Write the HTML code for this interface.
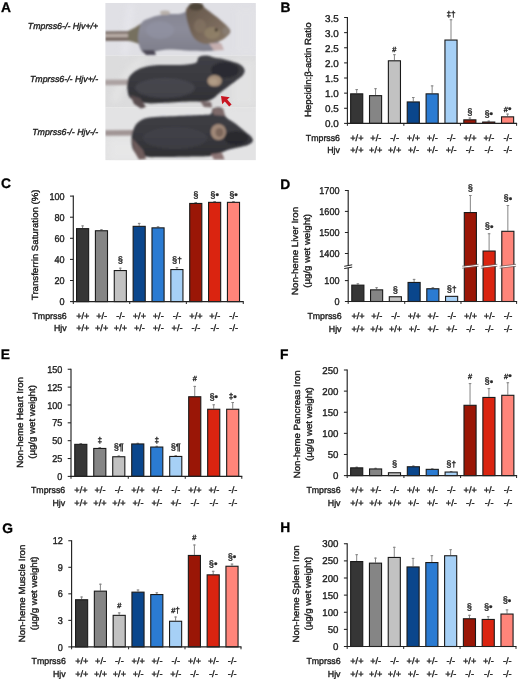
<!DOCTYPE html><html><head><meta charset="utf-8"><style>html,body{margin:0;padding:0;background:#fff;}svg{display:block;font-family:"Liberation Sans", sans-serif;filter:blur(0.35px);} text{stroke:#1a1a1a;stroke-width:0.36px;paint-order:stroke;text-rendering:geometricPrecision;}</style></head><body>
<svg width="520" height="681" viewBox="0 0 520 681">
<rect width="520" height="681" fill="#fff"/>
<defs><filter id="bl" x="-10%" y="-10%" width="120%" height="120%"><feGaussianBlur stdDeviation="0.8"/></filter><filter id="bl3" x="-30%" y="-30%" width="160%" height="160%"><feGaussianBlur stdDeviation="3"/></filter><clipPath id="pc"><rect x="105.4" y="3.1" width="150.4" height="157.1"/></clipPath><linearGradient id="fur2" x1="0" y1="0" x2="0" y2="1"><stop offset="0" stop-color="#404046"/><stop offset="0.5" stop-color="#3a3a40"/><stop offset="1" stop-color="#303034"/></linearGradient><linearGradient id="skin1" x1="0" y1="0" x2="0" y2="1"><stop offset="0" stop-color="#82828f"/><stop offset="0.5" stop-color="#8c8c9a"/><stop offset="1" stop-color="#7e7e8a"/></linearGradient><linearGradient id="head1" x1="0" y1="0" x2="1" y2="1"><stop offset="0" stop-color="#625448"/><stop offset="0.6" stop-color="#7a6a5c"/><stop offset="1" stop-color="#8a7a68"/></linearGradient></defs><g clip-path="url(#pc)"><rect x="105" y="3" width="151" height="52.6" fill="#e0e0e5"/><rect x="105" y="55.6" width="151" height="52" fill="#dcdcdd"/><rect x="105" y="107.6" width="151" height="53" fill="#e3e3e4"/><g filter="url(#bl3)" opacity="0.75"><path d="M121,55 L128,4 L134,4 L128,55 Z" fill="#e8e8ee"/><path d="M110,100 C118,80 125,68 140,58 L150,58 C132,70 124,85 118,104 Z" fill="#e6e6e6"/><rect x="232" y="60" width="24" height="46" fill="#e4e4e4"/><rect x="236" y="8" width="20" height="46" fill="#e2e2e6"/><rect x="110" y="140" width="30" height="20" fill="#e8e8e8"/></g><g filter="url(#bl)"><path d="M105,31.5 L129,31.2 L134,30 L138,33 L134,41 L129,40.8 L105,40.8 Z" fill="#6e605a"/><path d="M105,33.8 L129,33.6 L134,34 L134,37.5 L129,37.6 L105,37.4 Z" fill="#b8aca6"/><path d="M128,31 C133,29 137,26 142,23 L143,46 C139,44 135,42 128,40.8 Z" fill="#76705e"/><path d="M141.5,23 C143.5,19.67 147.17,19.27 150,18 C152.83,16.73 155.17,16.07 158.5,15.4 C161.83,14.73 166.42,14.27 170,14 C173.58,13.73 177,14.47 180,13.8 C183,13.13 186,11.55 188,10 C190,8.45 189.75,5.55 192,4.5 C194.25,3.45 199.4,3.17 201.5,3.7 C203.6,4.23 201.77,5.23 204.6,7.7 C207.43,10.17 214.27,14.78 218.5,18.5 C222.73,22.22 228.75,26.92 230,30 C231.25,33.08 227.92,35.08 226,37 C224.08,38.92 219.17,39.83 218.5,41.5 C217.83,43.17 223.08,45.45 222,47 C220.92,48.55 217.33,50.17 212,50.8 C206.67,51.43 196.67,51.02 190,50.8 C183.33,50.58 177.25,49.5 172,49.5 C166.75,49.5 162.5,50.05 158.5,50.8 C154.5,51.55 150.83,54 148,54 C145.17,54 143.17,53.47 141.5,50.8 C139.83,48.13 138,42.63 138,38 C138,33.37 139.5,26.33 141.5,23 Z" fill="url(#skin1)"/><path d="M186,10 C186.67,6.75 189.42,5.55 192,4.5 C194.58,3.45 199.4,3.17 201.5,3.7 C203.6,4.23 201.77,5.23 204.6,7.7 C207.43,10.17 214.27,14.78 218.5,18.5 C222.73,22.22 228.75,26.92 230,30 C231.25,33.08 227.92,35.08 226,37 C224.08,38.92 222,40.33 218.5,41.5 C215,42.67 209.08,44.58 205,44 C200.92,43.42 196.83,41.33 194,38 C191.17,34.67 189.33,28.67 188,24 C186.67,19.33 185.33,13.25 186,10 Z" fill="url(#head1)"/><ellipse cx="196" cy="6.5" rx="7.5" ry="4" fill="#4e4438"/><ellipse cx="212" cy="33" rx="8" ry="6" fill="#9a8a6c" opacity="0.6"/><ellipse cx="226" cy="31" rx="3.5" ry="4" fill="#8a8078" opacity="0.7"/><ellipse cx="200" cy="26" rx="6" ry="7" fill="#857462" opacity="0.7"/><circle cx="216.2" cy="30" r="1.4" fill="#241c18"/><ellipse cx="165" cy="12.8" rx="5" ry="2.3" fill="#b8b0aa"/><path d="M142,50 L146,55 L156,55 L154,50 Z" fill="#4e4a56"/><path d="M209,43.5 L214,50.5 L224,50 L221,43 Z" fill="#c4aeae"/><ellipse cx="160" cy="30" rx="14" ry="9" fill="#9496a8" opacity="0.5"/><path d="M105,79.7 L128,79.5 L130,85 L105,85.2 Z" fill="#aca2a2"/><path d="M127.7,81.2 C128.25,78.7 128.75,77.12 130.8,75 C132.85,72.88 135.9,70.13 140,68.5 C144.1,66.87 148.73,65.78 155.4,65.2 C162.07,64.62 173.33,65.37 180,65 C186.67,64.63 192.23,64.33 195.4,63 C198.57,61.67 197.07,58.25 199,57 C200.93,55.75 204.5,55.42 207,55.5 C209.5,55.58 211.33,56.92 214,57.5 C216.67,58.08 220,58.33 223,59 C226,59.67 229.17,60.58 232,61.5 C234.83,62.42 237.92,63.17 240,64.5 C242.08,65.83 244,67.75 244.5,69.5 C245,71.25 244.42,73.12 243,75 C241.58,76.88 238.67,78.72 236,80.8 C233.33,82.88 229.83,85.38 227,87.5 C224.17,89.62 221.33,91.67 219,93.5 C216.67,95.33 215.33,97.17 213,98.5 C210.67,99.83 209,101 205,101.5 C201,102 196.25,101.25 189,101.5 C181.75,101.75 168.67,102.75 161.5,103 C154.33,103.25 151.08,103.75 146,103 C140.92,102.25 134.08,100.67 131,98.5 C127.92,96.33 128.05,92.88 127.5,90 C126.95,87.12 127.15,83.7 127.7,81.2 Z" fill="url(#fur2)"/><ellipse cx="165" cy="88" rx="30" ry="10" fill="#50505a" opacity="0.55"/><ellipse cx="225" cy="70" rx="14" ry="8" fill="#28282c" opacity="0.8"/><path d="M130,95 L134,104 L141,108.5 L146,107 L140,98 Z" fill="#5a4e50"/><path d="M200,101 L204,107 L212,107.5 L211,102 Z" fill="#7a6a6c"/><ellipse cx="214.6" cy="80.8" rx="7.3" ry="5.8" fill="#a48e7a"/><ellipse cx="213.5" cy="81.5" rx="4" ry="3" fill="#b09c86"/><path d="M105,130.2 L134,130 L134,135.5 L105,135.7 Z" fill="#a09494"/><path d="M133.8,128.6 C134.97,125.93 135.93,123.85 138.5,122 C141.07,120.15 142.78,118.5 149.2,117.5 C155.62,116.5 168.28,116.42 177,116 C185.72,115.58 195.87,115.33 201.5,115 C207.13,114.67 208.88,115.08 210.8,114 C212.72,112.92 211.13,109.5 213,108.5 C214.87,107.5 219.83,106.58 222,108 C224.17,109.42 223.67,114.33 226,117 C228.33,119.67 232.83,121.58 236,124 C239.17,126.42 242.5,129.42 245,131.5 C247.5,133.58 249.7,134.92 251,136.5 C252.3,138.08 253.3,139.58 252.8,141 C252.3,142.42 250.47,143.92 248,145 C245.53,146.08 241.17,146.75 238,147.5 C234.83,148.25 232,148.58 229,149.5 C226,150.42 223.17,151.92 220,153 C216.83,154.08 214.1,155.42 210,156 C205.9,156.58 203.48,156.33 195.4,156.5 C187.32,156.67 169.73,157 161.5,157 C153.27,157 150.58,157.5 146,156.5 C141.42,155.5 136.42,154.08 134,151 C131.58,147.92 131.53,141.73 131.5,138 C131.47,134.27 132.63,131.27 133.8,128.6 Z" fill="url(#fur2)"/><ellipse cx="175" cy="138" rx="32" ry="11" fill="#46464e" opacity="0.5"/><ellipse cx="236" cy="138" rx="12" ry="7" fill="#26262a" opacity="0.8"/><path d="M212,110 L216,107.8 L223,108.5 L225,116 L214,115 Z" fill="#7e6a6a"/><path d="M132,138 L134,151 L139,159.5 L146,159 L143,150 Z" fill="#6e5c5c"/><path d="M210.8,154 L214,159.5 L224.6,159.5 L222,153 Z" fill="#8c7474"/><ellipse cx="218.4" cy="132" rx="7.6" ry="8" fill="#a08878"/><ellipse cx="219.5" cy="132.5" rx="4" ry="4.6" fill="#7c665a"/></g><path d="M221,96 L229.8,97.2 L227.2,99.6 L231.6,104.6 L229.2,106.6 L224.8,101.6 L222.2,104.2 Z" fill="#c81420"/></g>
<text x="1" y="11.7" font-size="13.8" font-weight="bold" fill="#000" style="stroke-width:0.3px">A</text>
<text x="98.2" y="29" font-size="8.8" text-anchor="end" font-weight="normal" font-style="italic" fill="#1e1e1e">Tmprss6-/- Hjv+/+</text>
<text x="98.2" y="81.7" font-size="8.8" text-anchor="end" font-weight="normal" font-style="italic" fill="#1e1e1e">Tmprss6-/- Hjv+/-</text>
<text x="98.2" y="135" font-size="8.8" text-anchor="end" font-weight="normal" font-style="italic" fill="#1e1e1e">Tmprss6-/- Hjv-/-</text>
<line x1="347.4" y1="17" x2="347.4" y2="123.9" stroke="#222" stroke-width="1.15"/>
<line x1="344.1" y1="123.4" x2="347.4" y2="123.4" stroke="#222" stroke-width="1.05"/>
<text transform="translate(338.7,127.4) scale(1.0,1)" font-size="9.9" text-anchor="end" fill="#1e1e1e">0.0</text>
<line x1="344.1" y1="108.27" x2="347.4" y2="108.27" stroke="#222" stroke-width="1.05"/>
<text transform="translate(338.7,112.27) scale(1.0,1)" font-size="9.9" text-anchor="end" fill="#1e1e1e">0.5</text>
<line x1="344.1" y1="93.14" x2="347.4" y2="93.14" stroke="#222" stroke-width="1.05"/>
<text transform="translate(338.7,97.14) scale(1.0,1)" font-size="9.9" text-anchor="end" fill="#1e1e1e">1.0</text>
<line x1="344.1" y1="78.01" x2="347.4" y2="78.01" stroke="#222" stroke-width="1.05"/>
<text transform="translate(338.7,82.01) scale(1.0,1)" font-size="9.9" text-anchor="end" fill="#1e1e1e">1.5</text>
<line x1="344.1" y1="62.89" x2="347.4" y2="62.89" stroke="#222" stroke-width="1.05"/>
<text transform="translate(338.7,66.89) scale(1.0,1)" font-size="9.9" text-anchor="end" fill="#1e1e1e">2.0</text>
<line x1="344.1" y1="47.76" x2="347.4" y2="47.76" stroke="#222" stroke-width="1.05"/>
<text transform="translate(338.7,51.76) scale(1.0,1)" font-size="9.9" text-anchor="end" fill="#1e1e1e">2.5</text>
<line x1="344.1" y1="32.63" x2="347.4" y2="32.63" stroke="#222" stroke-width="1.05"/>
<text transform="translate(338.7,36.63) scale(1.0,1)" font-size="9.9" text-anchor="end" fill="#1e1e1e">3.0</text>
<line x1="344.1" y1="17.5" x2="347.4" y2="17.5" stroke="#222" stroke-width="1.05"/>
<text transform="translate(338.7,21.5) scale(1.0,1)" font-size="9.9" text-anchor="end" fill="#1e1e1e">3.5</text>
<line x1="356.7" y1="89.1" x2="356.7" y2="93.3" stroke="#858585" stroke-width="1.0"/>
<line x1="355.4" y1="89.6" x2="358" y2="89.6" stroke="#858585" stroke-width="1"/>
<rect x="350.65" y="93.85" width="12.1" height="29.55" fill="#363636" stroke="#1a1a1a" stroke-width="1.1"/>
<line x1="375.56" y1="88.2" x2="375.56" y2="95.1" stroke="#858585" stroke-width="1.0"/>
<line x1="374.26" y1="88.7" x2="376.86" y2="88.7" stroke="#858585" stroke-width="1"/>
<rect x="369.51" y="95.65" width="12.1" height="27.75" fill="#858585" stroke="#1a1a1a" stroke-width="1.1"/>
<line x1="394.42" y1="54.2" x2="394.42" y2="60.25" stroke="#858585" stroke-width="1.0"/>
<line x1="393.12" y1="54.7" x2="395.72" y2="54.7" stroke="#858585" stroke-width="1"/>
<rect x="388.37" y="60.8" width="12.1" height="62.6" fill="#c2c2c2" stroke="#1a1a1a" stroke-width="1.1"/>
<text x="392.36" y="51.8" fill="#2a2a2a"><tspan font-size="7.4">#</tspan></text>
<line x1="413.28" y1="97" x2="413.28" y2="101.4" stroke="#858585" stroke-width="1.0"/>
<line x1="411.98" y1="97.5" x2="414.58" y2="97.5" stroke="#858585" stroke-width="1"/>
<rect x="407.23" y="101.95" width="12.1" height="21.45" fill="#0a468c" stroke="#1a1a1a" stroke-width="1.1"/>
<line x1="432.14" y1="85.4" x2="432.14" y2="93.3" stroke="#858585" stroke-width="1.0"/>
<line x1="430.84" y1="85.9" x2="433.44" y2="85.9" stroke="#858585" stroke-width="1"/>
<rect x="426.09" y="93.85" width="12.1" height="29.55" fill="#2b7bd2" stroke="#1a1a1a" stroke-width="1.1"/>
<line x1="451" y1="19.3" x2="451" y2="39.5" stroke="#858585" stroke-width="1.0"/>
<line x1="449.7" y1="19.8" x2="452.3" y2="19.8" stroke="#858585" stroke-width="1"/>
<rect x="444.95" y="40.05" width="12.1" height="83.35" fill="#a6d0f6" stroke="#1a1a1a" stroke-width="1.1"/>
<text x="446.39" y="16.9" fill="#2a2a2a"><tspan font-size="8.3">‡</tspan><tspan font-size="8.3">†</tspan></text>
<line x1="469.86" y1="117.5" x2="469.86" y2="119.3" stroke="#858585" stroke-width="1.0"/>
<line x1="468.56" y1="118" x2="471.16" y2="118" stroke="#858585" stroke-width="1"/>
<rect x="463.81" y="119.85" width="12.1" height="3.55" fill="#9a1606" stroke="#1a1a1a" stroke-width="1.1"/>
<text x="467.27" y="115.05" fill="#2a2a2a"><tspan font-size="9.3">§</tspan></text>
<line x1="488.72" y1="120.6" x2="488.72" y2="121.5" stroke="#858585" stroke-width="1.0"/>
<line x1="487.42" y1="121.1" x2="490.02" y2="121.1" stroke="#858585" stroke-width="1"/>
<rect x="482.67" y="122.05" width="12.1" height="1.35" fill="#da2410" stroke="#1a1a1a" stroke-width="1.1"/>
<text x="484.38" y="116.85" fill="#2a2a2a"><tspan font-size="9.3">§</tspan><tspan font-size="10" dy="0.3">•</tspan></text>
<line x1="507.58" y1="113.6" x2="507.58" y2="116.3" stroke="#858585" stroke-width="1.0"/>
<line x1="506.28" y1="114.1" x2="508.88" y2="114.1" stroke="#858585" stroke-width="1"/>
<rect x="501.53" y="116.85" width="12.1" height="6.55" fill="#ff857a" stroke="#1a1a1a" stroke-width="1.1"/>
<text x="503.77" y="111.8" fill="#2a2a2a"><tspan font-size="7.4">#</tspan><tspan font-size="10" dy="0.3">•</tspan></text>
<line x1="346.9" y1="123.4" x2="517.1" y2="123.4" stroke="#222" stroke-width="1.15"/>
<line x1="347.4" y1="123.4" x2="347.4" y2="125.8" stroke="#222" stroke-width="1"/>
<line x1="403.85" y1="123.4" x2="403.85" y2="125.8" stroke="#222" stroke-width="1"/>
<line x1="460.43" y1="123.4" x2="460.43" y2="125.8" stroke="#222" stroke-width="1"/>
<line x1="516.6" y1="123.4" x2="516.6" y2="125.8" stroke="#222" stroke-width="1"/>
<text x="340" y="140.7" font-size="8.8" text-anchor="end" font-weight="normal" font-style="normal" fill="#1e1e1e">Tmprss6</text>
<text x="339.9" y="153.4" font-size="8.8" text-anchor="end" font-weight="normal" font-style="normal" fill="#1e1e1e">Hjv</text>
<text x="356.9" y="140.7" font-size="9.2" text-anchor="middle" font-weight="normal" font-style="normal" fill="#1e1e1e">+/+</text>
<text x="356.9" y="153.4" font-size="9.2" text-anchor="middle" font-weight="normal" font-style="normal" fill="#1e1e1e">+/+</text>
<text x="375.76" y="140.7" font-size="9.2" text-anchor="middle" font-weight="normal" font-style="normal" fill="#1e1e1e">+/-</text>
<text x="375.76" y="153.4" font-size="9.2" text-anchor="middle" font-weight="normal" font-style="normal" fill="#1e1e1e">+/+</text>
<text x="394.62" y="140.7" font-size="9.2" text-anchor="middle" font-weight="normal" font-style="normal" fill="#1e1e1e">-/-</text>
<text x="394.62" y="153.4" font-size="9.2" text-anchor="middle" font-weight="normal" font-style="normal" fill="#1e1e1e">+/+</text>
<text x="413.48" y="140.7" font-size="9.2" text-anchor="middle" font-weight="normal" font-style="normal" fill="#1e1e1e">+/+</text>
<text x="413.48" y="153.4" font-size="9.2" text-anchor="middle" font-weight="normal" font-style="normal" fill="#1e1e1e">+/-</text>
<text x="432.34" y="140.7" font-size="9.2" text-anchor="middle" font-weight="normal" font-style="normal" fill="#1e1e1e">+/-</text>
<text x="432.34" y="153.4" font-size="9.2" text-anchor="middle" font-weight="normal" font-style="normal" fill="#1e1e1e">+/-</text>
<text x="451.2" y="140.7" font-size="9.2" text-anchor="middle" font-weight="normal" font-style="normal" fill="#1e1e1e">-/-</text>
<text x="451.2" y="153.4" font-size="9.2" text-anchor="middle" font-weight="normal" font-style="normal" fill="#1e1e1e">+/-</text>
<text x="470.06" y="140.7" font-size="9.2" text-anchor="middle" font-weight="normal" font-style="normal" fill="#1e1e1e">+/+</text>
<text x="470.06" y="153.4" font-size="9.2" text-anchor="middle" font-weight="normal" font-style="normal" fill="#1e1e1e">-/-</text>
<text x="488.92" y="140.7" font-size="9.2" text-anchor="middle" font-weight="normal" font-style="normal" fill="#1e1e1e">+/-</text>
<text x="488.92" y="153.4" font-size="9.2" text-anchor="middle" font-weight="normal" font-style="normal" fill="#1e1e1e">-/-</text>
<text x="507.78" y="140.7" font-size="9.2" text-anchor="middle" font-weight="normal" font-style="normal" fill="#1e1e1e">-/-</text>
<text x="507.78" y="153.4" font-size="9.2" text-anchor="middle" font-weight="normal" font-style="normal" fill="#1e1e1e">-/-</text>
<text transform="translate(311.2,69.75) rotate(-90) scale(1,0.92)" x="0" y="0" font-size="9.67" text-anchor="middle" fill="#1e1e1e" style="stroke-width:0.42px">Hepcidin:β-actin Ratio</text>
<text x="280.4" y="11.7" font-size="13.8" text-anchor="start" font-weight="bold" font-style="normal" fill="#000" style="stroke-width:0.3px">B</text>
<line x1="73.3" y1="195.6" x2="73.3" y2="302.1" stroke="#222" stroke-width="1.15"/>
<line x1="70" y1="301.6" x2="73.3" y2="301.6" stroke="#222" stroke-width="1.05"/>
<text transform="translate(64.6,305.2) scale(0.92,1)" font-size="9.9" text-anchor="end" fill="#1e1e1e">0</text>
<line x1="70" y1="280.5" x2="73.3" y2="280.5" stroke="#222" stroke-width="1.05"/>
<text transform="translate(64.6,284.1) scale(0.92,1)" font-size="9.9" text-anchor="end" fill="#1e1e1e">20</text>
<line x1="70" y1="259.4" x2="73.3" y2="259.4" stroke="#222" stroke-width="1.05"/>
<text transform="translate(64.6,263) scale(0.92,1)" font-size="9.9" text-anchor="end" fill="#1e1e1e">40</text>
<line x1="70" y1="238.3" x2="73.3" y2="238.3" stroke="#222" stroke-width="1.05"/>
<text transform="translate(64.6,241.9) scale(0.92,1)" font-size="9.9" text-anchor="end" fill="#1e1e1e">60</text>
<line x1="70" y1="217.2" x2="73.3" y2="217.2" stroke="#222" stroke-width="1.05"/>
<text transform="translate(64.6,220.8) scale(0.92,1)" font-size="9.9" text-anchor="end" fill="#1e1e1e">80</text>
<line x1="70" y1="196.1" x2="73.3" y2="196.1" stroke="#222" stroke-width="1.05"/>
<text transform="translate(64.6,199.7) scale(0.92,1)" font-size="9.9" text-anchor="end" fill="#1e1e1e">100</text>
<line x1="82.6" y1="225.4" x2="82.6" y2="228.1" stroke="#858585" stroke-width="1.0"/>
<line x1="81.3" y1="225.9" x2="83.9" y2="225.9" stroke="#858585" stroke-width="1"/>
<rect x="76.55" y="228.65" width="12.1" height="72.95" fill="#363636" stroke="#1a1a1a" stroke-width="1.1"/>
<line x1="101.46" y1="229.2" x2="101.46" y2="230.2" stroke="#858585" stroke-width="1.0"/>
<line x1="100.16" y1="229.7" x2="102.76" y2="229.7" stroke="#858585" stroke-width="1"/>
<rect x="95.41" y="230.75" width="12.1" height="70.85" fill="#858585" stroke="#1a1a1a" stroke-width="1.1"/>
<line x1="120.32" y1="267.7" x2="120.32" y2="270" stroke="#858585" stroke-width="1.0"/>
<line x1="119.02" y1="268.2" x2="121.62" y2="268.2" stroke="#858585" stroke-width="1"/>
<rect x="114.27" y="270.55" width="12.1" height="31.05" fill="#c2c2c2" stroke="#1a1a1a" stroke-width="1.1"/>
<text x="117.73" y="262.65" fill="#2a2a2a"><tspan font-size="9.3">§</tspan></text>
<line x1="139.18" y1="222.9" x2="139.18" y2="225.8" stroke="#858585" stroke-width="1.0"/>
<line x1="137.88" y1="223.4" x2="140.48" y2="223.4" stroke="#858585" stroke-width="1"/>
<rect x="133.13" y="226.35" width="12.1" height="75.25" fill="#0a468c" stroke="#1a1a1a" stroke-width="1.1"/>
<line x1="158.04" y1="226.3" x2="158.04" y2="227.3" stroke="#858585" stroke-width="1.0"/>
<line x1="156.74" y1="226.8" x2="159.34" y2="226.8" stroke="#858585" stroke-width="1"/>
<rect x="151.99" y="227.85" width="12.1" height="73.75" fill="#2b7bd2" stroke="#1a1a1a" stroke-width="1.1"/>
<line x1="176.9" y1="267.1" x2="176.9" y2="269" stroke="#858585" stroke-width="1.0"/>
<line x1="175.6" y1="267.6" x2="178.2" y2="267.6" stroke="#858585" stroke-width="1"/>
<rect x="170.85" y="269.55" width="12.1" height="32.05" fill="#a6d0f6" stroke="#1a1a1a" stroke-width="1.1"/>
<text x="172.01" y="262.65" fill="#2a2a2a"><tspan font-size="9.3">§</tspan><tspan font-size="8.3">†</tspan></text>
<line x1="195.76" y1="202" x2="195.76" y2="202.9" stroke="#858585" stroke-width="1.0"/>
<line x1="194.46" y1="202.5" x2="197.06" y2="202.5" stroke="#858585" stroke-width="1"/>
<rect x="189.71" y="203.45" width="12.1" height="98.15" fill="#9a1606" stroke="#1a1a1a" stroke-width="1.1"/>
<text x="193.17" y="198.15" fill="#2a2a2a"><tspan font-size="9.3">§</tspan></text>
<line x1="214.62" y1="201" x2="214.62" y2="201.8" stroke="#858585" stroke-width="1.0"/>
<line x1="213.32" y1="201.5" x2="215.92" y2="201.5" stroke="#858585" stroke-width="1"/>
<rect x="208.57" y="202.35" width="12.1" height="99.25" fill="#da2410" stroke="#1a1a1a" stroke-width="1.1"/>
<text x="210.28" y="198.15" fill="#2a2a2a"><tspan font-size="9.3">§</tspan><tspan font-size="10" dy="0.3">•</tspan></text>
<line x1="233.48" y1="201" x2="233.48" y2="201.8" stroke="#858585" stroke-width="1.0"/>
<line x1="232.18" y1="201.5" x2="234.78" y2="201.5" stroke="#858585" stroke-width="1"/>
<rect x="227.43" y="202.35" width="12.1" height="99.25" fill="#ff857a" stroke="#1a1a1a" stroke-width="1.1"/>
<text x="229.14" y="198.15" fill="#2a2a2a"><tspan font-size="9.3">§</tspan><tspan font-size="10" dy="0.3">•</tspan></text>
<line x1="72.8" y1="301.6" x2="243.75" y2="301.6" stroke="#222" stroke-width="1.15"/>
<line x1="73.3" y1="301.6" x2="73.3" y2="304" stroke="#222" stroke-width="1"/>
<line x1="129.75" y1="301.6" x2="129.75" y2="304" stroke="#222" stroke-width="1"/>
<line x1="186.33" y1="301.6" x2="186.33" y2="304" stroke="#222" stroke-width="1"/>
<line x1="243.25" y1="301.6" x2="243.25" y2="304" stroke="#222" stroke-width="1"/>
<text x="66.7" y="318.8" font-size="8.8" text-anchor="end" font-weight="normal" font-style="normal" fill="#1e1e1e">Tmprss6</text>
<text x="66.6" y="331.4" font-size="8.8" text-anchor="end" font-weight="normal" font-style="normal" fill="#1e1e1e">Hjv</text>
<text x="82.8" y="318.8" font-size="9.2" text-anchor="middle" font-weight="normal" font-style="normal" fill="#1e1e1e">+/+</text>
<text x="82.8" y="331.4" font-size="9.2" text-anchor="middle" font-weight="normal" font-style="normal" fill="#1e1e1e">+/+</text>
<text x="101.66" y="318.8" font-size="9.2" text-anchor="middle" font-weight="normal" font-style="normal" fill="#1e1e1e">+/-</text>
<text x="101.66" y="331.4" font-size="9.2" text-anchor="middle" font-weight="normal" font-style="normal" fill="#1e1e1e">+/+</text>
<text x="120.52" y="318.8" font-size="9.2" text-anchor="middle" font-weight="normal" font-style="normal" fill="#1e1e1e">-/-</text>
<text x="120.52" y="331.4" font-size="9.2" text-anchor="middle" font-weight="normal" font-style="normal" fill="#1e1e1e">+/+</text>
<text x="139.38" y="318.8" font-size="9.2" text-anchor="middle" font-weight="normal" font-style="normal" fill="#1e1e1e">+/+</text>
<text x="139.38" y="331.4" font-size="9.2" text-anchor="middle" font-weight="normal" font-style="normal" fill="#1e1e1e">+/-</text>
<text x="158.24" y="318.8" font-size="9.2" text-anchor="middle" font-weight="normal" font-style="normal" fill="#1e1e1e">+/-</text>
<text x="158.24" y="331.4" font-size="9.2" text-anchor="middle" font-weight="normal" font-style="normal" fill="#1e1e1e">+/-</text>
<text x="177.1" y="318.8" font-size="9.2" text-anchor="middle" font-weight="normal" font-style="normal" fill="#1e1e1e">-/-</text>
<text x="177.1" y="331.4" font-size="9.2" text-anchor="middle" font-weight="normal" font-style="normal" fill="#1e1e1e">+/-</text>
<text x="195.96" y="318.8" font-size="9.2" text-anchor="middle" font-weight="normal" font-style="normal" fill="#1e1e1e">+/+</text>
<text x="195.96" y="331.4" font-size="9.2" text-anchor="middle" font-weight="normal" font-style="normal" fill="#1e1e1e">-/-</text>
<text x="214.82" y="318.8" font-size="9.2" text-anchor="middle" font-weight="normal" font-style="normal" fill="#1e1e1e">+/-</text>
<text x="214.82" y="331.4" font-size="9.2" text-anchor="middle" font-weight="normal" font-style="normal" fill="#1e1e1e">-/-</text>
<text x="233.68" y="318.8" font-size="9.2" text-anchor="middle" font-weight="normal" font-style="normal" fill="#1e1e1e">-/-</text>
<text x="233.68" y="331.4" font-size="9.2" text-anchor="middle" font-weight="normal" font-style="normal" fill="#1e1e1e">-/-</text>
<text transform="translate(37.8,244.8) rotate(-90) scale(1,0.92)" x="0" y="0" font-size="9.67" text-anchor="middle" fill="#1e1e1e" style="stroke-width:0.42px">Transferrin Saturation (%)</text>
<text x="1" y="187.9" font-size="13.8" text-anchor="start" font-weight="bold" font-style="normal" fill="#000" style="stroke-width:0.3px">C</text>
<line x1="348.2" y1="190" x2="348.2" y2="302" stroke="#222" stroke-width="1.15"/>
<line x1="344.9" y1="301.5" x2="348.2" y2="301.5" stroke="#222" stroke-width="1.05"/>
<text transform="translate(339.5,305.1) scale(0.92,1)" font-size="9.9" text-anchor="end" fill="#1e1e1e">0</text>
<line x1="344.9" y1="280.6" x2="348.2" y2="280.6" stroke="#222" stroke-width="1.05"/>
<text transform="translate(339.5,284.2) scale(0.92,1)" font-size="9.9" text-anchor="end" fill="#1e1e1e">100</text>
<line x1="344.9" y1="253.5" x2="348.2" y2="253.5" stroke="#222" stroke-width="1.05"/>
<text transform="translate(339.5,257.1) scale(0.92,1)" font-size="9.9" text-anchor="end" fill="#1e1e1e">1400</text>
<line x1="344.9" y1="232.5" x2="348.2" y2="232.5" stroke="#222" stroke-width="1.05"/>
<text transform="translate(339.5,236.1) scale(0.92,1)" font-size="9.9" text-anchor="end" fill="#1e1e1e">1500</text>
<line x1="344.9" y1="211.4" x2="348.2" y2="211.4" stroke="#222" stroke-width="1.05"/>
<text transform="translate(339.5,215) scale(0.92,1)" font-size="9.9" text-anchor="end" fill="#1e1e1e">1600</text>
<line x1="344.9" y1="190.5" x2="348.2" y2="190.5" stroke="#222" stroke-width="1.05"/>
<text transform="translate(339.5,194.1) scale(0.92,1)" font-size="9.9" text-anchor="end" fill="#1e1e1e">1700</text>
<line x1="357.85" y1="283.3" x2="357.85" y2="284.6" stroke="#858585" stroke-width="1.0"/>
<line x1="356.55" y1="283.8" x2="359.15" y2="283.8" stroke="#858585" stroke-width="1"/>
<rect x="351.8" y="285.15" width="12.1" height="16.35" fill="#363636" stroke="#1a1a1a" stroke-width="1.1"/>
<line x1="376.6" y1="287.2" x2="376.6" y2="289.3" stroke="#858585" stroke-width="1.0"/>
<line x1="375.3" y1="287.7" x2="377.9" y2="287.7" stroke="#858585" stroke-width="1"/>
<rect x="370.55" y="289.85" width="12.1" height="11.65" fill="#858585" stroke="#1a1a1a" stroke-width="1.1"/>
<rect x="389.3" y="296.75" width="12.1" height="4.75" fill="#c2c2c2" stroke="#1a1a1a" stroke-width="1.1"/>
<text x="392.76" y="292.85" fill="#2a2a2a"><tspan font-size="9.3">§</tspan></text>
<line x1="414.1" y1="278.9" x2="414.1" y2="281.9" stroke="#858585" stroke-width="1.0"/>
<line x1="412.8" y1="279.4" x2="415.4" y2="279.4" stroke="#858585" stroke-width="1"/>
<rect x="408.05" y="282.45" width="12.1" height="19.05" fill="#0a468c" stroke="#1a1a1a" stroke-width="1.1"/>
<line x1="432.85" y1="287.2" x2="432.85" y2="288.2" stroke="#858585" stroke-width="1.0"/>
<line x1="431.55" y1="287.7" x2="434.15" y2="287.7" stroke="#858585" stroke-width="1"/>
<rect x="426.8" y="288.75" width="12.1" height="12.75" fill="#2b7bd2" stroke="#1a1a1a" stroke-width="1.1"/>
<rect x="445.55" y="296.35" width="12.1" height="5.15" fill="#a6d0f6" stroke="#1a1a1a" stroke-width="1.1"/>
<text x="446.71" y="291.65" fill="#2a2a2a"><tspan font-size="9.3">§</tspan><tspan font-size="8.3">†</tspan></text>
<line x1="470.35" y1="195" x2="470.35" y2="212" stroke="#858585" stroke-width="1.0"/>
<line x1="469.05" y1="195.5" x2="471.65" y2="195.5" stroke="#858585" stroke-width="1"/>
<rect x="464.3" y="212.55" width="12.1" height="88.95" fill="#9a1606" stroke="#1a1a1a" stroke-width="1.1"/>
<text x="467.76" y="191.35" fill="#2a2a2a"><tspan font-size="9.3">§</tspan></text>
<line x1="489.1" y1="233.25" x2="489.1" y2="250.5" stroke="#858585" stroke-width="1.0"/>
<line x1="487.8" y1="233.75" x2="490.4" y2="233.75" stroke="#858585" stroke-width="1"/>
<rect x="483.05" y="251.05" width="12.1" height="50.45" fill="#da2410" stroke="#1a1a1a" stroke-width="1.1"/>
<text x="484.76" y="229.35" fill="#2a2a2a"><tspan font-size="9.3">§</tspan><tspan font-size="10" dy="0.3">•</tspan></text>
<line x1="507.85" y1="205" x2="507.85" y2="230.75" stroke="#858585" stroke-width="1.0"/>
<line x1="506.55" y1="205.5" x2="509.15" y2="205.5" stroke="#858585" stroke-width="1"/>
<rect x="501.8" y="231.3" width="12.1" height="70.2" fill="#ff857a" stroke="#1a1a1a" stroke-width="1.1"/>
<text x="503.51" y="201.35" fill="#2a2a2a"><tspan font-size="9.3">§</tspan><tspan font-size="10" dy="0.3">•</tspan></text>
<line x1="347.7" y1="301.5" x2="517.1" y2="301.5" stroke="#222" stroke-width="1.15"/>
<line x1="348.2" y1="301.5" x2="348.2" y2="303.9" stroke="#222" stroke-width="1"/>
<line x1="404.73" y1="301.5" x2="404.73" y2="303.9" stroke="#222" stroke-width="1"/>
<line x1="460.98" y1="301.5" x2="460.98" y2="303.9" stroke="#222" stroke-width="1"/>
<line x1="516.6" y1="301.5" x2="516.6" y2="303.9" stroke="#222" stroke-width="1"/>
<text x="341.6" y="318.7" font-size="8.8" text-anchor="end" font-weight="normal" font-style="normal" fill="#1e1e1e">Tmprss6</text>
<text x="341.5" y="331.8" font-size="8.8" text-anchor="end" font-weight="normal" font-style="normal" fill="#1e1e1e">Hjv</text>
<text x="358.05" y="318.7" font-size="9.2" text-anchor="middle" font-weight="normal" font-style="normal" fill="#1e1e1e">+/+</text>
<text x="358.05" y="331.8" font-size="9.2" text-anchor="middle" font-weight="normal" font-style="normal" fill="#1e1e1e">+/+</text>
<text x="376.8" y="318.7" font-size="9.2" text-anchor="middle" font-weight="normal" font-style="normal" fill="#1e1e1e">+/-</text>
<text x="376.8" y="331.8" font-size="9.2" text-anchor="middle" font-weight="normal" font-style="normal" fill="#1e1e1e">+/+</text>
<text x="395.55" y="318.7" font-size="9.2" text-anchor="middle" font-weight="normal" font-style="normal" fill="#1e1e1e">-/-</text>
<text x="395.55" y="331.8" font-size="9.2" text-anchor="middle" font-weight="normal" font-style="normal" fill="#1e1e1e">+/+</text>
<text x="414.3" y="318.7" font-size="9.2" text-anchor="middle" font-weight="normal" font-style="normal" fill="#1e1e1e">+/+</text>
<text x="414.3" y="331.8" font-size="9.2" text-anchor="middle" font-weight="normal" font-style="normal" fill="#1e1e1e">+/-</text>
<text x="433.05" y="318.7" font-size="9.2" text-anchor="middle" font-weight="normal" font-style="normal" fill="#1e1e1e">+/-</text>
<text x="433.05" y="331.8" font-size="9.2" text-anchor="middle" font-weight="normal" font-style="normal" fill="#1e1e1e">+/-</text>
<text x="451.8" y="318.7" font-size="9.2" text-anchor="middle" font-weight="normal" font-style="normal" fill="#1e1e1e">-/-</text>
<text x="451.8" y="331.8" font-size="9.2" text-anchor="middle" font-weight="normal" font-style="normal" fill="#1e1e1e">+/-</text>
<text x="470.55" y="318.7" font-size="9.2" text-anchor="middle" font-weight="normal" font-style="normal" fill="#1e1e1e">+/+</text>
<text x="470.55" y="331.8" font-size="9.2" text-anchor="middle" font-weight="normal" font-style="normal" fill="#1e1e1e">-/-</text>
<text x="489.3" y="318.7" font-size="9.2" text-anchor="middle" font-weight="normal" font-style="normal" fill="#1e1e1e">+/-</text>
<text x="489.3" y="331.8" font-size="9.2" text-anchor="middle" font-weight="normal" font-style="normal" fill="#1e1e1e">-/-</text>
<text x="508.05" y="318.7" font-size="9.2" text-anchor="middle" font-weight="normal" font-style="normal" fill="#1e1e1e">-/-</text>
<text x="508.05" y="331.8" font-size="9.2" text-anchor="middle" font-weight="normal" font-style="normal" fill="#1e1e1e">-/-</text>
<text transform="translate(297.6,250.95) rotate(-90) scale(1,0.92)" x="0" y="0" font-size="9.67" text-anchor="middle" fill="#1e1e1e" style="stroke-width:0.42px">Non-heme Liver Iron</text>
<text transform="translate(309.5,250.85) rotate(-90) scale(1,0.92)" x="0" y="0" font-size="9.67" text-anchor="middle" fill="#1e1e1e" style="stroke-width:0.42px">(µg/g wet weight)</text>
<text x="280.3" y="189" font-size="13.8" text-anchor="start" font-weight="bold" font-style="normal" fill="#000" style="stroke-width:0.3px">D</text>
<rect x="346.2" y="265.4" width="4" height="2.4" fill="#fff"/>
<line x1="344.2" y1="266.3" x2="352.2" y2="264.8" stroke="#222" stroke-width="1"/>
<line x1="344.2" y1="268.6" x2="352.2" y2="267.1" stroke="#222" stroke-width="1"/>
<path d="M462.15,266.4 L478.55,264.5 L478.55,266.1 L462.15,268 Z" fill="#fff"/>
<line x1="462.15" y1="266.2" x2="478.55" y2="264.3" stroke="#6a5a5a" stroke-width="0.7"/>
<line x1="462.15" y1="268.2" x2="478.55" y2="266.3" stroke="#6a5a5a" stroke-width="0.7"/>
<path d="M480.9,266.4 L497.3,264.5 L497.3,266.1 L480.9,268 Z" fill="#fff"/>
<line x1="480.9" y1="266.2" x2="497.3" y2="264.3" stroke="#6a5a5a" stroke-width="0.7"/>
<line x1="480.9" y1="268.2" x2="497.3" y2="266.3" stroke="#6a5a5a" stroke-width="0.7"/>
<path d="M499.65,266.4 L516.05,264.5 L516.05,266.1 L499.65,268 Z" fill="#fff"/>
<line x1="499.65" y1="266.2" x2="516.05" y2="264.3" stroke="#6a5a5a" stroke-width="0.7"/>
<line x1="499.65" y1="268.2" x2="516.05" y2="266.3" stroke="#6a5a5a" stroke-width="0.7"/>
<line x1="71" y1="368.75" x2="71" y2="476.9" stroke="#222" stroke-width="1.15"/>
<line x1="67.7" y1="476.4" x2="71" y2="476.4" stroke="#222" stroke-width="1.05"/>
<text transform="translate(62.3,480) scale(0.92,1)" font-size="9.9" text-anchor="end" fill="#1e1e1e">0</text>
<line x1="67.7" y1="458.54" x2="71" y2="458.54" stroke="#222" stroke-width="1.05"/>
<text transform="translate(62.3,462.14) scale(0.92,1)" font-size="9.9" text-anchor="end" fill="#1e1e1e">25</text>
<line x1="67.7" y1="440.68" x2="71" y2="440.68" stroke="#222" stroke-width="1.05"/>
<text transform="translate(62.3,444.28) scale(0.92,1)" font-size="9.9" text-anchor="end" fill="#1e1e1e">50</text>
<line x1="67.7" y1="422.82" x2="71" y2="422.82" stroke="#222" stroke-width="1.05"/>
<text transform="translate(62.3,426.43) scale(0.92,1)" font-size="9.9" text-anchor="end" fill="#1e1e1e">75</text>
<line x1="67.7" y1="404.97" x2="71" y2="404.97" stroke="#222" stroke-width="1.05"/>
<text transform="translate(62.3,408.57) scale(0.92,1)" font-size="9.9" text-anchor="end" fill="#1e1e1e">100</text>
<line x1="67.7" y1="387.11" x2="71" y2="387.11" stroke="#222" stroke-width="1.05"/>
<text transform="translate(62.3,390.71) scale(0.92,1)" font-size="9.9" text-anchor="end" fill="#1e1e1e">125</text>
<line x1="67.7" y1="369.25" x2="71" y2="369.25" stroke="#222" stroke-width="1.05"/>
<text transform="translate(62.3,372.85) scale(0.92,1)" font-size="9.9" text-anchor="end" fill="#1e1e1e">150</text>
<line x1="80.8" y1="443" x2="80.8" y2="443.8" stroke="#858585" stroke-width="1.0"/>
<line x1="79.5" y1="443.5" x2="82.1" y2="443.5" stroke="#858585" stroke-width="1"/>
<rect x="74.75" y="444.35" width="12.1" height="32.05" fill="#363636" stroke="#1a1a1a" stroke-width="1.1"/>
<line x1="99.79" y1="447" x2="99.79" y2="447.9" stroke="#858585" stroke-width="1.0"/>
<line x1="98.49" y1="447.5" x2="101.09" y2="447.5" stroke="#858585" stroke-width="1"/>
<rect x="93.74" y="448.45" width="12.1" height="27.95" fill="#858585" stroke="#1a1a1a" stroke-width="1.1"/>
<text x="97.48" y="442.5" fill="#2a2a2a"><tspan font-size="8.3">‡</tspan></text>
<line x1="118.78" y1="455.5" x2="118.78" y2="456.2" stroke="#858585" stroke-width="1.0"/>
<line x1="117.48" y1="456" x2="120.08" y2="456" stroke="#858585" stroke-width="1"/>
<rect x="112.73" y="456.75" width="12.1" height="19.65" fill="#c2c2c2" stroke="#1a1a1a" stroke-width="1.1"/>
<text x="113.7" y="450.05" fill="#2a2a2a"><tspan font-size="9.3">§</tspan><tspan font-size="9.3">¶</tspan></text>
<line x1="137.77" y1="442.8" x2="137.77" y2="443.4" stroke="#858585" stroke-width="1.0"/>
<line x1="136.47" y1="443.3" x2="139.07" y2="443.3" stroke="#858585" stroke-width="1"/>
<rect x="131.72" y="443.95" width="12.1" height="32.45" fill="#0a468c" stroke="#1a1a1a" stroke-width="1.1"/>
<line x1="156.76" y1="445.8" x2="156.76" y2="446.5" stroke="#858585" stroke-width="1.0"/>
<line x1="155.46" y1="446.3" x2="158.06" y2="446.3" stroke="#858585" stroke-width="1"/>
<rect x="150.71" y="447.05" width="12.1" height="29.35" fill="#2b7bd2" stroke="#1a1a1a" stroke-width="1.1"/>
<text x="154.45" y="442.5" fill="#2a2a2a"><tspan font-size="8.3">‡</tspan></text>
<line x1="175.75" y1="455.2" x2="175.75" y2="455.9" stroke="#858585" stroke-width="1.0"/>
<line x1="174.45" y1="455.7" x2="177.05" y2="455.7" stroke="#858585" stroke-width="1"/>
<rect x="169.7" y="456.45" width="12.1" height="19.95" fill="#a6d0f6" stroke="#1a1a1a" stroke-width="1.1"/>
<text x="170.67" y="450.05" fill="#2a2a2a"><tspan font-size="9.3">§</tspan><tspan font-size="9.3">¶</tspan></text>
<line x1="194.74" y1="385.9" x2="194.74" y2="396.2" stroke="#858585" stroke-width="1.0"/>
<line x1="193.44" y1="386.4" x2="196.04" y2="386.4" stroke="#858585" stroke-width="1"/>
<rect x="188.69" y="396.75" width="12.1" height="79.65" fill="#9a1606" stroke="#1a1a1a" stroke-width="1.1"/>
<text x="192.68" y="380.9" fill="#2a2a2a"><tspan font-size="7.4">#</tspan></text>
<line x1="213.73" y1="404.3" x2="213.73" y2="408.7" stroke="#858585" stroke-width="1.0"/>
<line x1="212.43" y1="404.8" x2="215.03" y2="404.8" stroke="#858585" stroke-width="1"/>
<rect x="207.68" y="409.25" width="12.1" height="67.15" fill="#da2410" stroke="#1a1a1a" stroke-width="1.1"/>
<text x="209.39" y="400.05" fill="#2a2a2a"><tspan font-size="9.3">§</tspan><tspan font-size="10" dy="0.3">•</tspan></text>
<line x1="232.72" y1="402" x2="232.72" y2="408.7" stroke="#858585" stroke-width="1.0"/>
<line x1="231.42" y1="402.5" x2="234.02" y2="402.5" stroke="#858585" stroke-width="1"/>
<rect x="226.67" y="409.25" width="12.1" height="67.15" fill="#ff857a" stroke="#1a1a1a" stroke-width="1.1"/>
<text x="228.66" y="399.3" fill="#2a2a2a"><tspan font-size="8.3">‡</tspan><tspan font-size="10" dy="0.3">•</tspan></text>
<line x1="70.5" y1="476.4" x2="242.3" y2="476.4" stroke="#222" stroke-width="1.15"/>
<line x1="71" y1="476.4" x2="71" y2="478.8" stroke="#222" stroke-width="1"/>
<line x1="128.28" y1="476.4" x2="128.28" y2="478.8" stroke="#222" stroke-width="1"/>
<line x1="185.24" y1="476.4" x2="185.24" y2="478.8" stroke="#222" stroke-width="1"/>
<line x1="241.8" y1="476.4" x2="241.8" y2="478.8" stroke="#222" stroke-width="1"/>
<text x="65.2" y="493" font-size="8.8" text-anchor="end" font-weight="normal" font-style="normal" fill="#1e1e1e">Tmprss6</text>
<text x="65.1" y="506.2" font-size="8.8" text-anchor="end" font-weight="normal" font-style="normal" fill="#1e1e1e">Hjv</text>
<text x="81" y="493" font-size="9.2" text-anchor="middle" font-weight="normal" font-style="normal" fill="#1e1e1e">+/+</text>
<text x="81" y="506.2" font-size="9.2" text-anchor="middle" font-weight="normal" font-style="normal" fill="#1e1e1e">+/+</text>
<text x="99.99" y="493" font-size="9.2" text-anchor="middle" font-weight="normal" font-style="normal" fill="#1e1e1e">+/-</text>
<text x="99.99" y="506.2" font-size="9.2" text-anchor="middle" font-weight="normal" font-style="normal" fill="#1e1e1e">+/+</text>
<text x="118.98" y="493" font-size="9.2" text-anchor="middle" font-weight="normal" font-style="normal" fill="#1e1e1e">-/-</text>
<text x="118.98" y="506.2" font-size="9.2" text-anchor="middle" font-weight="normal" font-style="normal" fill="#1e1e1e">+/+</text>
<text x="137.97" y="493" font-size="9.2" text-anchor="middle" font-weight="normal" font-style="normal" fill="#1e1e1e">+/+</text>
<text x="137.97" y="506.2" font-size="9.2" text-anchor="middle" font-weight="normal" font-style="normal" fill="#1e1e1e">+/-</text>
<text x="156.96" y="493" font-size="9.2" text-anchor="middle" font-weight="normal" font-style="normal" fill="#1e1e1e">+/-</text>
<text x="156.96" y="506.2" font-size="9.2" text-anchor="middle" font-weight="normal" font-style="normal" fill="#1e1e1e">+/-</text>
<text x="175.95" y="493" font-size="9.2" text-anchor="middle" font-weight="normal" font-style="normal" fill="#1e1e1e">-/-</text>
<text x="175.95" y="506.2" font-size="9.2" text-anchor="middle" font-weight="normal" font-style="normal" fill="#1e1e1e">+/-</text>
<text x="194.94" y="493" font-size="9.2" text-anchor="middle" font-weight="normal" font-style="normal" fill="#1e1e1e">+/+</text>
<text x="194.94" y="506.2" font-size="9.2" text-anchor="middle" font-weight="normal" font-style="normal" fill="#1e1e1e">-/-</text>
<text x="213.93" y="493" font-size="9.2" text-anchor="middle" font-weight="normal" font-style="normal" fill="#1e1e1e">+/-</text>
<text x="213.93" y="506.2" font-size="9.2" text-anchor="middle" font-weight="normal" font-style="normal" fill="#1e1e1e">-/-</text>
<text x="232.92" y="493" font-size="9.2" text-anchor="middle" font-weight="normal" font-style="normal" fill="#1e1e1e">-/-</text>
<text x="232.92" y="506.2" font-size="9.2" text-anchor="middle" font-weight="normal" font-style="normal" fill="#1e1e1e">-/-</text>
<text transform="translate(22.6,422.45) rotate(-90) scale(1,0.92)" x="0" y="0" font-size="9.67" text-anchor="middle" fill="#1e1e1e" style="stroke-width:0.42px">Non-heme Heart Iron</text>
<text transform="translate(34.5,421.98) rotate(-90) scale(1,0.92)" x="0" y="0" font-size="9.67" text-anchor="middle" fill="#1e1e1e" style="stroke-width:0.42px">(µg/g wet weight)</text>
<text x="0.85" y="358.8" font-size="13.8" text-anchor="start" font-weight="bold" font-style="normal" fill="#000" style="stroke-width:0.3px">E</text>
<line x1="347.2" y1="369.5" x2="347.2" y2="476.1" stroke="#222" stroke-width="1.15"/>
<line x1="343.9" y1="475.6" x2="347.2" y2="475.6" stroke="#222" stroke-width="1.05"/>
<text transform="translate(338.5,479.2) scale(0.98,1)" font-size="9.9" text-anchor="end" fill="#1e1e1e">0</text>
<line x1="343.9" y1="454.48" x2="347.2" y2="454.48" stroke="#222" stroke-width="1.05"/>
<text transform="translate(338.5,458.08) scale(0.98,1)" font-size="9.9" text-anchor="end" fill="#1e1e1e">50</text>
<line x1="343.9" y1="433.36" x2="347.2" y2="433.36" stroke="#222" stroke-width="1.05"/>
<text transform="translate(338.5,436.96) scale(0.98,1)" font-size="9.9" text-anchor="end" fill="#1e1e1e">100</text>
<line x1="343.9" y1="412.24" x2="347.2" y2="412.24" stroke="#222" stroke-width="1.05"/>
<text transform="translate(338.5,415.84) scale(0.98,1)" font-size="9.9" text-anchor="end" fill="#1e1e1e">150</text>
<line x1="343.9" y1="391.12" x2="347.2" y2="391.12" stroke="#222" stroke-width="1.05"/>
<text transform="translate(338.5,394.72) scale(0.98,1)" font-size="9.9" text-anchor="end" fill="#1e1e1e">200</text>
<line x1="343.9" y1="370" x2="347.2" y2="370" stroke="#222" stroke-width="1.05"/>
<text transform="translate(338.5,373.6) scale(0.98,1)" font-size="9.9" text-anchor="end" fill="#1e1e1e">250</text>
<line x1="356.7" y1="466.7" x2="356.7" y2="467.3" stroke="#858585" stroke-width="1.0"/>
<line x1="355.4" y1="467.2" x2="358" y2="467.2" stroke="#858585" stroke-width="1"/>
<rect x="350.65" y="467.85" width="12.1" height="7.75" fill="#363636" stroke="#1a1a1a" stroke-width="1.1"/>
<line x1="375.59" y1="467.8" x2="375.59" y2="468.4" stroke="#858585" stroke-width="1.0"/>
<line x1="374.29" y1="468.3" x2="376.89" y2="468.3" stroke="#858585" stroke-width="1"/>
<rect x="369.54" y="468.95" width="12.1" height="6.65" fill="#858585" stroke="#1a1a1a" stroke-width="1.1"/>
<rect x="388.43" y="472.75" width="12.1" height="2.85" fill="#c2c2c2" stroke="#1a1a1a" stroke-width="1.1"/>
<text x="391.89" y="467.35" fill="#2a2a2a"><tspan font-size="9.3">§</tspan></text>
<line x1="413.37" y1="465.5" x2="413.37" y2="466.2" stroke="#858585" stroke-width="1.0"/>
<line x1="412.07" y1="466" x2="414.67" y2="466" stroke="#858585" stroke-width="1"/>
<rect x="407.32" y="466.75" width="12.1" height="8.85" fill="#0a468c" stroke="#1a1a1a" stroke-width="1.1"/>
<line x1="432.26" y1="468.3" x2="432.26" y2="468.8" stroke="#858585" stroke-width="1.0"/>
<line x1="430.96" y1="468.8" x2="433.56" y2="468.8" stroke="#858585" stroke-width="1"/>
<rect x="426.21" y="469.35" width="12.1" height="6.25" fill="#2b7bd2" stroke="#1a1a1a" stroke-width="1.1"/>
<line x1="451.15" y1="471" x2="451.15" y2="471.5" stroke="#858585" stroke-width="1.0"/>
<line x1="449.85" y1="471.5" x2="452.45" y2="471.5" stroke="#858585" stroke-width="1"/>
<rect x="445.1" y="472.05" width="12.1" height="3.55" fill="#a6d0f6" stroke="#1a1a1a" stroke-width="1.1"/>
<text x="446.26" y="467.35" fill="#2a2a2a"><tspan font-size="9.3">§</tspan><tspan font-size="8.3">†</tspan></text>
<line x1="470.04" y1="383.1" x2="470.04" y2="404.75" stroke="#858585" stroke-width="1.0"/>
<line x1="468.74" y1="383.6" x2="471.34" y2="383.6" stroke="#858585" stroke-width="1"/>
<rect x="463.99" y="405.3" width="12.1" height="70.3" fill="#9a1606" stroke="#1a1a1a" stroke-width="1.1"/>
<text x="467.98" y="378.75" fill="#2a2a2a"><tspan font-size="7.4">#</tspan></text>
<line x1="488.93" y1="388.1" x2="488.93" y2="396.9" stroke="#858585" stroke-width="1.0"/>
<line x1="487.63" y1="388.6" x2="490.23" y2="388.6" stroke="#858585" stroke-width="1"/>
<rect x="482.88" y="397.45" width="12.1" height="78.15" fill="#da2410" stroke="#1a1a1a" stroke-width="1.1"/>
<text x="484.59" y="384.35" fill="#2a2a2a"><tspan font-size="9.3">§</tspan><tspan font-size="10" dy="0.3">•</tspan></text>
<line x1="507.82" y1="382.25" x2="507.82" y2="394.75" stroke="#858585" stroke-width="1.0"/>
<line x1="506.52" y1="382.75" x2="509.12" y2="382.75" stroke="#858585" stroke-width="1"/>
<rect x="501.77" y="395.3" width="12.1" height="80.3" fill="#ff857a" stroke="#1a1a1a" stroke-width="1.1"/>
<text x="504.01" y="378.5" fill="#2a2a2a"><tspan font-size="7.4">#</tspan><tspan font-size="10" dy="0.3">•</tspan></text>
<line x1="346.7" y1="475.6" x2="517.1" y2="475.6" stroke="#222" stroke-width="1.15"/>
<line x1="347.2" y1="475.6" x2="347.2" y2="478" stroke="#222" stroke-width="1"/>
<line x1="403.93" y1="475.6" x2="403.93" y2="478" stroke="#222" stroke-width="1"/>
<line x1="460.6" y1="475.6" x2="460.6" y2="478" stroke="#222" stroke-width="1"/>
<line x1="516.6" y1="475.6" x2="516.6" y2="478" stroke="#222" stroke-width="1"/>
<text x="340.6" y="492.8" font-size="8.8" text-anchor="end" font-weight="normal" font-style="normal" fill="#1e1e1e">Tmprss6</text>
<text x="340.5" y="505.9" font-size="8.8" text-anchor="end" font-weight="normal" font-style="normal" fill="#1e1e1e">Hjv</text>
<text x="356.9" y="492.8" font-size="9.2" text-anchor="middle" font-weight="normal" font-style="normal" fill="#1e1e1e">+/+</text>
<text x="356.9" y="505.9" font-size="9.2" text-anchor="middle" font-weight="normal" font-style="normal" fill="#1e1e1e">+/+</text>
<text x="375.79" y="492.8" font-size="9.2" text-anchor="middle" font-weight="normal" font-style="normal" fill="#1e1e1e">+/-</text>
<text x="375.79" y="505.9" font-size="9.2" text-anchor="middle" font-weight="normal" font-style="normal" fill="#1e1e1e">+/+</text>
<text x="394.68" y="492.8" font-size="9.2" text-anchor="middle" font-weight="normal" font-style="normal" fill="#1e1e1e">-/-</text>
<text x="394.68" y="505.9" font-size="9.2" text-anchor="middle" font-weight="normal" font-style="normal" fill="#1e1e1e">+/+</text>
<text x="413.57" y="492.8" font-size="9.2" text-anchor="middle" font-weight="normal" font-style="normal" fill="#1e1e1e">+/+</text>
<text x="413.57" y="505.9" font-size="9.2" text-anchor="middle" font-weight="normal" font-style="normal" fill="#1e1e1e">+/-</text>
<text x="432.46" y="492.8" font-size="9.2" text-anchor="middle" font-weight="normal" font-style="normal" fill="#1e1e1e">+/-</text>
<text x="432.46" y="505.9" font-size="9.2" text-anchor="middle" font-weight="normal" font-style="normal" fill="#1e1e1e">+/-</text>
<text x="451.35" y="492.8" font-size="9.2" text-anchor="middle" font-weight="normal" font-style="normal" fill="#1e1e1e">-/-</text>
<text x="451.35" y="505.9" font-size="9.2" text-anchor="middle" font-weight="normal" font-style="normal" fill="#1e1e1e">+/-</text>
<text x="470.24" y="492.8" font-size="9.2" text-anchor="middle" font-weight="normal" font-style="normal" fill="#1e1e1e">+/+</text>
<text x="470.24" y="505.9" font-size="9.2" text-anchor="middle" font-weight="normal" font-style="normal" fill="#1e1e1e">-/-</text>
<text x="489.13" y="492.8" font-size="9.2" text-anchor="middle" font-weight="normal" font-style="normal" fill="#1e1e1e">+/-</text>
<text x="489.13" y="505.9" font-size="9.2" text-anchor="middle" font-weight="normal" font-style="normal" fill="#1e1e1e">-/-</text>
<text x="508.02" y="492.8" font-size="9.2" text-anchor="middle" font-weight="normal" font-style="normal" fill="#1e1e1e">-/-</text>
<text x="508.02" y="505.9" font-size="9.2" text-anchor="middle" font-weight="normal" font-style="normal" fill="#1e1e1e">-/-</text>
<text transform="translate(300.3,424.35) rotate(-90) scale(1,0.92)" x="0" y="0" font-size="9.67" text-anchor="middle" fill="#1e1e1e" style="stroke-width:0.42px">Non-heme Pancreas Iron</text>
<text transform="translate(311.9,424.05) rotate(-90) scale(1,0.92)" x="0" y="0" font-size="9.67" text-anchor="middle" fill="#1e1e1e" style="stroke-width:0.42px">(µg/g wet weight)</text>
<text x="280" y="358.8" font-size="13.8" text-anchor="start" font-weight="bold" font-style="normal" fill="#000" style="stroke-width:0.3px">F</text>
<line x1="71.6" y1="540.25" x2="71.6" y2="647.4" stroke="#222" stroke-width="1.15"/>
<line x1="68.3" y1="646.9" x2="71.6" y2="646.9" stroke="#222" stroke-width="1.05"/>
<text transform="translate(62.9,650.5) scale(0.92,1)" font-size="9.9" text-anchor="end" fill="#1e1e1e">0</text>
<line x1="68.3" y1="620.36" x2="71.6" y2="620.36" stroke="#222" stroke-width="1.05"/>
<text transform="translate(62.9,623.96) scale(0.92,1)" font-size="9.9" text-anchor="end" fill="#1e1e1e">3</text>
<line x1="68.3" y1="593.83" x2="71.6" y2="593.83" stroke="#222" stroke-width="1.05"/>
<text transform="translate(62.9,597.43) scale(0.92,1)" font-size="9.9" text-anchor="end" fill="#1e1e1e">6</text>
<line x1="68.3" y1="567.29" x2="71.6" y2="567.29" stroke="#222" stroke-width="1.05"/>
<text transform="translate(62.9,570.89) scale(0.92,1)" font-size="9.9" text-anchor="end" fill="#1e1e1e">9</text>
<line x1="68.3" y1="540.75" x2="71.6" y2="540.75" stroke="#222" stroke-width="1.05"/>
<text transform="translate(62.9,544.35) scale(0.92,1)" font-size="9.9" text-anchor="end" fill="#1e1e1e">12</text>
<line x1="81.6" y1="596.5" x2="81.6" y2="599.2" stroke="#858585" stroke-width="1.0"/>
<line x1="80.3" y1="597" x2="82.9" y2="597" stroke="#858585" stroke-width="1"/>
<rect x="75.55" y="599.75" width="12.1" height="47.15" fill="#363636" stroke="#1a1a1a" stroke-width="1.1"/>
<line x1="100.4" y1="583.7" x2="100.4" y2="590.6" stroke="#858585" stroke-width="1.0"/>
<line x1="99.1" y1="584.2" x2="101.7" y2="584.2" stroke="#858585" stroke-width="1"/>
<rect x="94.35" y="591.15" width="12.1" height="55.75" fill="#858585" stroke="#1a1a1a" stroke-width="1.1"/>
<line x1="119.2" y1="612.4" x2="119.2" y2="614.8" stroke="#858585" stroke-width="1.0"/>
<line x1="117.9" y1="612.9" x2="120.5" y2="612.9" stroke="#858585" stroke-width="1"/>
<rect x="113.15" y="615.35" width="12.1" height="31.55" fill="#c2c2c2" stroke="#1a1a1a" stroke-width="1.1"/>
<text x="117.14" y="607.9" fill="#2a2a2a"><tspan font-size="7.4">#</tspan></text>
<line x1="138" y1="589.5" x2="138" y2="591.6" stroke="#858585" stroke-width="1.0"/>
<line x1="136.7" y1="590" x2="139.3" y2="590" stroke="#858585" stroke-width="1"/>
<rect x="131.95" y="592.15" width="12.1" height="54.75" fill="#0a468c" stroke="#1a1a1a" stroke-width="1.1"/>
<line x1="156.8" y1="592.3" x2="156.8" y2="594" stroke="#858585" stroke-width="1.0"/>
<line x1="155.5" y1="592.8" x2="158.1" y2="592.8" stroke="#858585" stroke-width="1"/>
<rect x="150.75" y="594.55" width="12.1" height="52.35" fill="#2b7bd2" stroke="#1a1a1a" stroke-width="1.1"/>
<line x1="175.6" y1="616.5" x2="175.6" y2="620.7" stroke="#858585" stroke-width="1.0"/>
<line x1="174.3" y1="617" x2="176.9" y2="617" stroke="#858585" stroke-width="1"/>
<rect x="169.55" y="621.25" width="12.1" height="25.65" fill="#a6d0f6" stroke="#1a1a1a" stroke-width="1.1"/>
<text x="171.24" y="613" fill="#2a2a2a"><tspan font-size="7.4">#</tspan><tspan font-size="8.3">†</tspan></text>
<line x1="194.4" y1="544.5" x2="194.4" y2="554.9" stroke="#858585" stroke-width="1.0"/>
<line x1="193.1" y1="545" x2="195.7" y2="545" stroke="#858585" stroke-width="1"/>
<rect x="188.35" y="555.45" width="12.1" height="91.45" fill="#9a1606" stroke="#1a1a1a" stroke-width="1.1"/>
<text x="192.34" y="540.4" fill="#2a2a2a"><tspan font-size="7.4">#</tspan></text>
<line x1="213.2" y1="570.8" x2="213.2" y2="574.3" stroke="#858585" stroke-width="1.0"/>
<line x1="211.9" y1="571.3" x2="214.5" y2="571.3" stroke="#858585" stroke-width="1"/>
<rect x="207.15" y="574.85" width="12.1" height="72.05" fill="#da2410" stroke="#1a1a1a" stroke-width="1.1"/>
<text x="208.86" y="566.75" fill="#2a2a2a"><tspan font-size="9.3">§</tspan><tspan font-size="10" dy="0.3">•</tspan></text>
<line x1="232" y1="563.6" x2="232" y2="565.7" stroke="#858585" stroke-width="1.0"/>
<line x1="230.7" y1="564.1" x2="233.3" y2="564.1" stroke="#858585" stroke-width="1"/>
<rect x="225.95" y="566.25" width="12.1" height="80.65" fill="#ff857a" stroke="#1a1a1a" stroke-width="1.1"/>
<text x="227.66" y="559.85" fill="#2a2a2a"><tspan font-size="9.3">§</tspan><tspan font-size="10" dy="0.3">•</tspan></text>
<line x1="71.1" y1="646.9" x2="241.5" y2="646.9" stroke="#222" stroke-width="1.15"/>
<line x1="71.6" y1="646.9" x2="71.6" y2="649.3" stroke="#222" stroke-width="1"/>
<line x1="128.6" y1="646.9" x2="128.6" y2="649.3" stroke="#222" stroke-width="1"/>
<line x1="185" y1="646.9" x2="185" y2="649.3" stroke="#222" stroke-width="1"/>
<line x1="241" y1="646.9" x2="241" y2="649.3" stroke="#222" stroke-width="1"/>
<text x="65.8" y="663.6" font-size="8.8" text-anchor="end" font-weight="normal" font-style="normal" fill="#1e1e1e">Tmprss6</text>
<text x="65.7" y="676.7" font-size="8.8" text-anchor="end" font-weight="normal" font-style="normal" fill="#1e1e1e">Hjv</text>
<text x="81.8" y="663.6" font-size="9.2" text-anchor="middle" font-weight="normal" font-style="normal" fill="#1e1e1e">+/+</text>
<text x="81.8" y="676.7" font-size="9.2" text-anchor="middle" font-weight="normal" font-style="normal" fill="#1e1e1e">+/+</text>
<text x="100.6" y="663.6" font-size="9.2" text-anchor="middle" font-weight="normal" font-style="normal" fill="#1e1e1e">+/-</text>
<text x="100.6" y="676.7" font-size="9.2" text-anchor="middle" font-weight="normal" font-style="normal" fill="#1e1e1e">+/+</text>
<text x="119.4" y="663.6" font-size="9.2" text-anchor="middle" font-weight="normal" font-style="normal" fill="#1e1e1e">-/-</text>
<text x="119.4" y="676.7" font-size="9.2" text-anchor="middle" font-weight="normal" font-style="normal" fill="#1e1e1e">+/+</text>
<text x="138.2" y="663.6" font-size="9.2" text-anchor="middle" font-weight="normal" font-style="normal" fill="#1e1e1e">+/+</text>
<text x="138.2" y="676.7" font-size="9.2" text-anchor="middle" font-weight="normal" font-style="normal" fill="#1e1e1e">+/-</text>
<text x="157" y="663.6" font-size="9.2" text-anchor="middle" font-weight="normal" font-style="normal" fill="#1e1e1e">+/-</text>
<text x="157" y="676.7" font-size="9.2" text-anchor="middle" font-weight="normal" font-style="normal" fill="#1e1e1e">+/-</text>
<text x="175.8" y="663.6" font-size="9.2" text-anchor="middle" font-weight="normal" font-style="normal" fill="#1e1e1e">-/-</text>
<text x="175.8" y="676.7" font-size="9.2" text-anchor="middle" font-weight="normal" font-style="normal" fill="#1e1e1e">+/-</text>
<text x="194.6" y="663.6" font-size="9.2" text-anchor="middle" font-weight="normal" font-style="normal" fill="#1e1e1e">+/+</text>
<text x="194.6" y="676.7" font-size="9.2" text-anchor="middle" font-weight="normal" font-style="normal" fill="#1e1e1e">-/-</text>
<text x="213.4" y="663.6" font-size="9.2" text-anchor="middle" font-weight="normal" font-style="normal" fill="#1e1e1e">+/-</text>
<text x="213.4" y="676.7" font-size="9.2" text-anchor="middle" font-weight="normal" font-style="normal" fill="#1e1e1e">-/-</text>
<text x="232.2" y="663.6" font-size="9.2" text-anchor="middle" font-weight="normal" font-style="normal" fill="#1e1e1e">-/-</text>
<text x="232.2" y="676.7" font-size="9.2" text-anchor="middle" font-weight="normal" font-style="normal" fill="#1e1e1e">-/-</text>
<text transform="translate(25.3,593.5) rotate(-90) scale(1,0.92)" x="0" y="0" font-size="9.67" text-anchor="middle" fill="#1e1e1e" style="stroke-width:0.42px">Non-heme Muscle Iron</text>
<text transform="translate(36.9,593.3) rotate(-90) scale(1,0.92)" x="0" y="0" font-size="9.67" text-anchor="middle" fill="#1e1e1e" style="stroke-width:0.42px">(µg/g wet weight)</text>
<text x="2.25" y="532.8" font-size="13.8" text-anchor="start" font-weight="bold" font-style="normal" fill="#000" style="stroke-width:0.3px">G</text>
<line x1="347.2" y1="543.25" x2="347.2" y2="647" stroke="#222" stroke-width="1.15"/>
<line x1="343.9" y1="646.5" x2="347.2" y2="646.5" stroke="#222" stroke-width="1.05"/>
<text transform="translate(338.5,650.1) scale(0.98,1)" font-size="9.9" text-anchor="end" fill="#1e1e1e">0</text>
<line x1="343.9" y1="629.38" x2="347.2" y2="629.38" stroke="#222" stroke-width="1.05"/>
<text transform="translate(338.5,632.98) scale(0.98,1)" font-size="9.9" text-anchor="end" fill="#1e1e1e">50</text>
<line x1="343.9" y1="612.25" x2="347.2" y2="612.25" stroke="#222" stroke-width="1.05"/>
<text transform="translate(338.5,615.85) scale(0.98,1)" font-size="9.9" text-anchor="end" fill="#1e1e1e">100</text>
<line x1="343.9" y1="595.12" x2="347.2" y2="595.12" stroke="#222" stroke-width="1.05"/>
<text transform="translate(338.5,598.73) scale(0.98,1)" font-size="9.9" text-anchor="end" fill="#1e1e1e">150</text>
<line x1="343.9" y1="578" x2="347.2" y2="578" stroke="#222" stroke-width="1.05"/>
<text transform="translate(338.5,581.6) scale(0.98,1)" font-size="9.9" text-anchor="end" fill="#1e1e1e">200</text>
<line x1="343.9" y1="560.88" x2="347.2" y2="560.88" stroke="#222" stroke-width="1.05"/>
<text transform="translate(338.5,564.48) scale(0.98,1)" font-size="9.9" text-anchor="end" fill="#1e1e1e">250</text>
<line x1="343.9" y1="543.75" x2="347.2" y2="543.75" stroke="#222" stroke-width="1.05"/>
<text transform="translate(338.5,547.35) scale(0.98,1)" font-size="9.9" text-anchor="end" fill="#1e1e1e">300</text>
<line x1="356.7" y1="554.2" x2="356.7" y2="561" stroke="#858585" stroke-width="1.0"/>
<line x1="355.4" y1="554.7" x2="358" y2="554.7" stroke="#858585" stroke-width="1"/>
<rect x="350.65" y="561.55" width="12.1" height="84.95" fill="#363636" stroke="#1a1a1a" stroke-width="1.1"/>
<line x1="375.49" y1="557.6" x2="375.49" y2="562.6" stroke="#858585" stroke-width="1.0"/>
<line x1="374.19" y1="558.1" x2="376.79" y2="558.1" stroke="#858585" stroke-width="1"/>
<rect x="369.44" y="563.15" width="12.1" height="83.35" fill="#858585" stroke="#1a1a1a" stroke-width="1.1"/>
<line x1="394.28" y1="546.8" x2="394.28" y2="556.9" stroke="#858585" stroke-width="1.0"/>
<line x1="392.98" y1="547.3" x2="395.58" y2="547.3" stroke="#858585" stroke-width="1"/>
<rect x="388.23" y="557.45" width="12.1" height="89.05" fill="#c2c2c2" stroke="#1a1a1a" stroke-width="1.1"/>
<line x1="413.07" y1="557.9" x2="413.07" y2="566.4" stroke="#858585" stroke-width="1.0"/>
<line x1="411.77" y1="558.4" x2="414.37" y2="558.4" stroke="#858585" stroke-width="1"/>
<rect x="407.02" y="566.95" width="12.1" height="79.55" fill="#0a468c" stroke="#1a1a1a" stroke-width="1.1"/>
<line x1="431.86" y1="555.2" x2="431.86" y2="562" stroke="#858585" stroke-width="1.0"/>
<line x1="430.56" y1="555.7" x2="433.16" y2="555.7" stroke="#858585" stroke-width="1"/>
<rect x="425.81" y="562.55" width="12.1" height="83.95" fill="#2b7bd2" stroke="#1a1a1a" stroke-width="1.1"/>
<line x1="450.65" y1="549.2" x2="450.65" y2="555.2" stroke="#858585" stroke-width="1.0"/>
<line x1="449.35" y1="549.7" x2="451.95" y2="549.7" stroke="#858585" stroke-width="1"/>
<rect x="444.6" y="555.75" width="12.1" height="90.75" fill="#a6d0f6" stroke="#1a1a1a" stroke-width="1.1"/>
<line x1="469.44" y1="614.8" x2="469.44" y2="618.2" stroke="#858585" stroke-width="1.0"/>
<line x1="468.14" y1="615.3" x2="470.74" y2="615.3" stroke="#858585" stroke-width="1"/>
<rect x="463.39" y="618.75" width="12.1" height="27.75" fill="#9a1606" stroke="#1a1a1a" stroke-width="1.1"/>
<text x="466.85" y="610.15" fill="#2a2a2a"><tspan font-size="9.3">§</tspan></text>
<line x1="488.23" y1="616.2" x2="488.23" y2="618.9" stroke="#858585" stroke-width="1.0"/>
<line x1="486.93" y1="616.7" x2="489.53" y2="616.7" stroke="#858585" stroke-width="1"/>
<rect x="482.18" y="619.45" width="12.1" height="27.05" fill="#da2410" stroke="#1a1a1a" stroke-width="1.1"/>
<text x="483.89" y="610.15" fill="#2a2a2a"><tspan font-size="9.3">§</tspan><tspan font-size="10" dy="0.3">•</tspan></text>
<line x1="507.02" y1="609.4" x2="507.02" y2="613.5" stroke="#858585" stroke-width="1.0"/>
<line x1="505.72" y1="609.9" x2="508.32" y2="609.9" stroke="#858585" stroke-width="1"/>
<rect x="500.97" y="614.05" width="12.1" height="32.45" fill="#ff857a" stroke="#1a1a1a" stroke-width="1.1"/>
<text x="502.68" y="603.35" fill="#2a2a2a"><tspan font-size="9.3">§</tspan><tspan font-size="10" dy="0.3">•</tspan></text>
<line x1="346.7" y1="646.5" x2="516.5" y2="646.5" stroke="#222" stroke-width="1.15"/>
<line x1="347.2" y1="646.5" x2="347.2" y2="648.9" stroke="#222" stroke-width="1"/>
<line x1="403.68" y1="646.5" x2="403.68" y2="648.9" stroke="#222" stroke-width="1"/>
<line x1="460.05" y1="646.5" x2="460.05" y2="648.9" stroke="#222" stroke-width="1"/>
<line x1="516" y1="646.5" x2="516" y2="648.9" stroke="#222" stroke-width="1"/>
<text x="340.6" y="663.5" font-size="8.8" text-anchor="end" font-weight="normal" font-style="normal" fill="#1e1e1e">Tmprss6</text>
<text x="340.5" y="676.5" font-size="8.8" text-anchor="end" font-weight="normal" font-style="normal" fill="#1e1e1e">Hjv</text>
<text x="356.9" y="663.5" font-size="9.2" text-anchor="middle" font-weight="normal" font-style="normal" fill="#1e1e1e">+/+</text>
<text x="356.9" y="676.5" font-size="9.2" text-anchor="middle" font-weight="normal" font-style="normal" fill="#1e1e1e">+/+</text>
<text x="375.69" y="663.5" font-size="9.2" text-anchor="middle" font-weight="normal" font-style="normal" fill="#1e1e1e">+/-</text>
<text x="375.69" y="676.5" font-size="9.2" text-anchor="middle" font-weight="normal" font-style="normal" fill="#1e1e1e">+/+</text>
<text x="394.48" y="663.5" font-size="9.2" text-anchor="middle" font-weight="normal" font-style="normal" fill="#1e1e1e">-/-</text>
<text x="394.48" y="676.5" font-size="9.2" text-anchor="middle" font-weight="normal" font-style="normal" fill="#1e1e1e">+/+</text>
<text x="413.27" y="663.5" font-size="9.2" text-anchor="middle" font-weight="normal" font-style="normal" fill="#1e1e1e">+/+</text>
<text x="413.27" y="676.5" font-size="9.2" text-anchor="middle" font-weight="normal" font-style="normal" fill="#1e1e1e">+/-</text>
<text x="432.06" y="663.5" font-size="9.2" text-anchor="middle" font-weight="normal" font-style="normal" fill="#1e1e1e">+/-</text>
<text x="432.06" y="676.5" font-size="9.2" text-anchor="middle" font-weight="normal" font-style="normal" fill="#1e1e1e">+/-</text>
<text x="450.85" y="663.5" font-size="9.2" text-anchor="middle" font-weight="normal" font-style="normal" fill="#1e1e1e">-/-</text>
<text x="450.85" y="676.5" font-size="9.2" text-anchor="middle" font-weight="normal" font-style="normal" fill="#1e1e1e">+/-</text>
<text x="469.64" y="663.5" font-size="9.2" text-anchor="middle" font-weight="normal" font-style="normal" fill="#1e1e1e">+/+</text>
<text x="469.64" y="676.5" font-size="9.2" text-anchor="middle" font-weight="normal" font-style="normal" fill="#1e1e1e">-/-</text>
<text x="488.43" y="663.5" font-size="9.2" text-anchor="middle" font-weight="normal" font-style="normal" fill="#1e1e1e">+/-</text>
<text x="488.43" y="676.5" font-size="9.2" text-anchor="middle" font-weight="normal" font-style="normal" fill="#1e1e1e">-/-</text>
<text x="507.22" y="663.5" font-size="9.2" text-anchor="middle" font-weight="normal" font-style="normal" fill="#1e1e1e">-/-</text>
<text x="507.22" y="676.5" font-size="9.2" text-anchor="middle" font-weight="normal" font-style="normal" fill="#1e1e1e">-/-</text>
<text transform="translate(299.2,593.85) rotate(-90) scale(1,0.92)" x="0" y="0" font-size="9.67" text-anchor="middle" fill="#1e1e1e" style="stroke-width:0.42px">Non-heme Spleen Iron</text>
<text transform="translate(310.9,593.7) rotate(-90) scale(1,0.92)" x="0" y="0" font-size="9.67" text-anchor="middle" fill="#1e1e1e" style="stroke-width:0.42px">(µg/g wet weight)</text>
<text x="280.3" y="531.5" font-size="13.8" text-anchor="start" font-weight="bold" font-style="normal" fill="#000" style="stroke-width:0.3px">H</text>
</svg></body></html>
